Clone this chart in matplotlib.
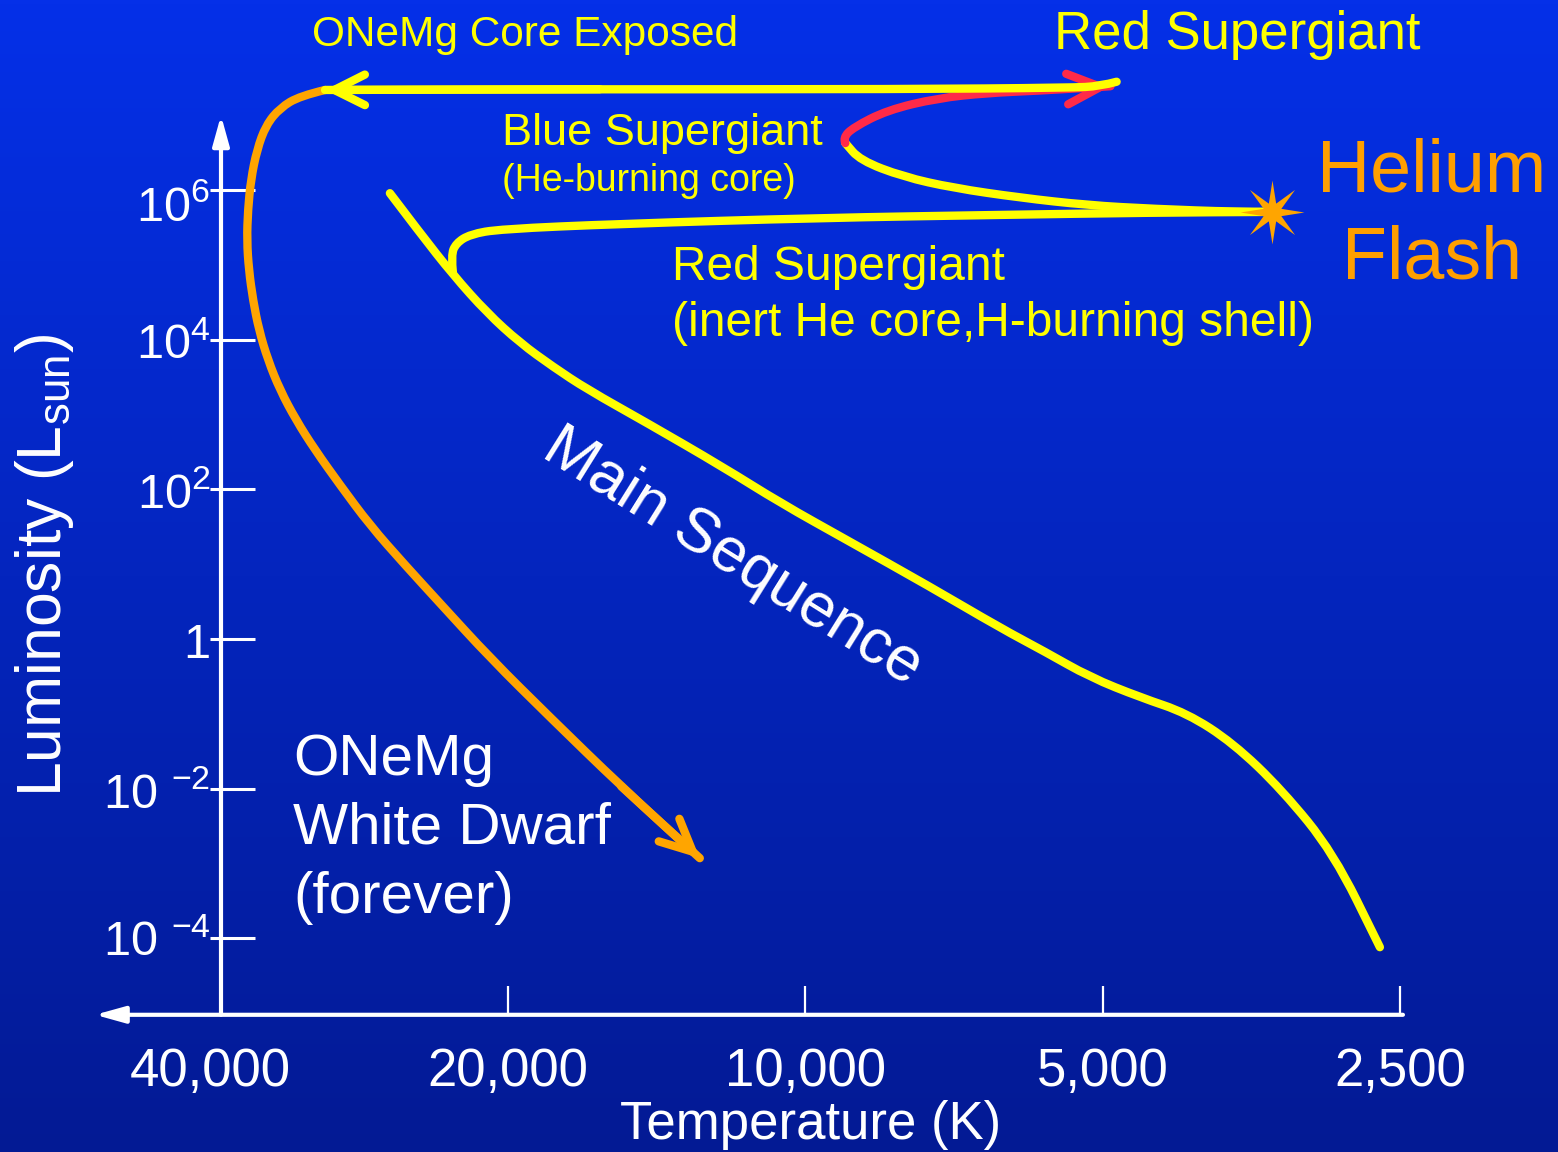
import numpy as np
import matplotlib
matplotlib.use('Agg')
from matplotlib import pyplot as plt
from matplotlib import transforms
from matplotlib.path import Path
from matplotlib.patches import PathPatch

plt.rcParams['font.family'] = ['Liberation Sans', 'DejaVu Sans']
plt.rcParams['mathtext.fontset'] = 'custom'
plt.rcParams['mathtext.rm'] = 'Liberation Sans'
plt.rcParams['mathtext.it'] = 'Liberation Sans:italic'
plt.rcParams['mathtext.bf'] = 'Liberation Sans:bold'

# main sequence (temperature in K, log10 of luminosity in L_sun)
ms_T = [26340, 24560, 22740, 21000, 19450, 18010, 16640, 14470, 12120, 10600, 9070,
        7480, 6350, 5720, 5150, 4580, 4110, 3690, 3290, 2920, 2620]
ms_logL = [5.96, 5.43, 4.87, 4.36, 3.96, 3.64, 3.34, 2.89, 2.30, 1.82, 1.32,
           0.70, 0.15, -0.17, -0.51, -0.78, -0.99, -1.39, -2.02, -2.86, -4.12]

# red supergiant branch up to the helium flash
rsg_T = [22740, 22840, 22580, 21850, 20380, 15410, 9660, 6350, 4470, 3370]
rsg_logL = [4.89, 5.13, 5.29, 5.41, 5.48, 5.55, 5.63, 5.67, 5.70, 5.71]

# blue loop, yellow part (from the flash back to the blue end)
loop_T = [3370, 3660, 4440, 5180, 6060, 7080, 7960, 8800, 9110]
loop_logL = [5.71, 5.71, 5.75, 5.80, 5.90, 6.03, 6.18, 6.40, 6.63]

# blue loop, red part (back to the red supergiant)
red_T = [9110, 9160, 8940, 8260, 7350, 6540, 5820, 5180, 4910]
red_logL = [6.63, 6.70, 6.84, 7.07, 7.23, 7.30, 7.33, 7.37, 7.39]

# red supergiant -> ONeMg core exposed
top_T = [4840, 5030, 5390, 8020, 16140, 30640]
top_logL = [7.45, 7.39, 7.37, 7.35, 7.35, 7.34]

# white dwarf cooling track
wd_T = [30640, 32480, 34030, 35160, 35910, 36420, 36670, 36760, 36590, 36240, 35740,
        35000, 34030, 32790, 31370, 29590, 27590, 25430, 23330, 20860, 18090, 15360, 12790]
wd_logL = [7.34, 7.26, 7.10, 6.87, 6.54, 6.14, 5.74, 5.33, 4.93, 4.53, 4.13,
           3.73, 3.33, 2.93, 2.53, 2.06, 1.52, 0.99, 0.45, -0.25, -1.06, -1.97, -2.93]

flash_T = 3370
flash_logL = 5.71

xticks_T = [40000, 20000, 10000, 5000, 2500]
xtick_labels = ['40,000', '20,000', '10,000', '5,000', '2,500']
yticks_L = [1e6, 1e4, 1e2, 1, 1e-2, 1e-4]
ytick_labels = [r'$\mathrm{10}^{6}$', r'$\mathrm{10}^{4}$', r'$\mathrm{10}^{2}$', '1',
                r'$\mathrm{10\ }^{-2}$', r'$\mathrm{10\ }^{-4}$']
ytick_drop = [18, 7, 6, 6, 6, 5]  # px the label sits below its tick

YELLOW = '#FFFF00'
ORANGE = '#FFA500'
RED = '#FF2A48'
W, H = 1558, 1152


def fx(x):
    return x / W


def fy(y):
    return 1 - y / H


def smooth(T, logL):
    # quadratic bezier through the midpoints, in log-log space
    lx = np.log10(np.asarray(T, float))
    ly = np.asarray(logL, float)
    verts = [(10 ** lx[0], 10 ** ly[0])]
    codes = [Path.MOVETO]
    for i in range(1, len(lx) - 1):
        verts.append((10 ** lx[i], 10 ** ly[i]))
        verts.append((10 ** ((lx[i] + lx[i + 1]) / 2), 10 ** ((ly[i] + ly[i + 1]) / 2)))
        codes += [Path.CURVE3, Path.CURVE3]
    verts.append((10 ** lx[-1], 10 ** ly[-1]))
    codes.append(Path.LINETO)
    return Path(verts, codes)


def track(ax, T, logL, color, z):
    p = PathPatch(smooth(T, logL), fill=False, edgecolor=color, lw=6,
                  capstyle='round', joinstyle='round', zorder=z, clip_on=False)
    ax.add_patch(p)


def arrow_end(ax, T, logL, color, z, hl, hw):
    ax.annotate('', xy=(T[-1], 10 ** logL[-1]), xytext=(T[-2], 10 ** logL[-2]),
                arrowprops=dict(arrowstyle='->,head_length=%s,head_width=%s' % (hl, hw),
                                mutation_scale=20, color=color, lw=6, shrinkA=0, shrinkB=0,
                                capstyle='round', joinstyle='round'),
                zorder=z, annotation_clip=False)


fig = plt.figure(figsize=(W / 100, H / 100), dpi=100)

# background gradient
bg = fig.add_axes([0, 0, 1, 1], zorder=-1)
top_col = np.array([5, 48, 232]) / 255
bot_col = np.array([3, 26, 148]) / 255
t = np.linspace(0, 1, 256)[:, None]
grad = (top_col[None, :] * (1 - t) + bot_col[None, :] * t)[:, None, :]
bg.imshow(grad, aspect='auto', extent=[0, 1, 0, 1])
bg.axis('off')

ax = fig.add_axes([221 / W, (H - 1013) / H, 1179 / W, 897.6 / H])
ax.set_facecolor('none')
ax.set_xscale('log')
ax.set_yscale('log')
ax.set_xlim(39050, 2500)
ax.set_ylim(1e-5, 1e7)
for s in ax.spines.values():
    s.set_visible(False)

ax.set_xticks(xticks_T[1:])
ax.set_xticks([], minor=True)
ax.tick_params(axis='x', which='major', direction='in', length=19.5, width=1.6,
               color='white', labelbottom=False)
ax.yaxis.remove_overlapping_locs = False
ax.set_yticks(yticks_L)
ax.set_yticks(yticks_L, minor=True)
ax.tick_params(axis='y', which='major', direction='in', length=24.5, width=2.2,
               color='white')
ax.tick_params(axis='y', which='minor', direction='out', length=8, width=2.2,
               color='white')
ax.tick_params(axis='y', which='both', labelleft=False)

# axis lines with arrows
ax.annotate('', xy=(0, 1.0), xytext=(0, -0.002), xycoords='axes fraction',
            arrowprops=dict(arrowstyle='-|>,head_length=0.9,head_width=0.25',
                            mutation_scale=20, color='white', lw=3,
                            shrinkA=0, shrinkB=0))
ax.annotate('', xy=(-0.1069, -0.002), xytext=(1.0025, -0.002), xycoords='axes fraction',
            arrowprops=dict(arrowstyle='-|>,head_length=0.9,head_width=0.25',
                            mutation_scale=20, color='white', lw=3,
                            shrinkA=0, shrinkB=0))

bx = transforms.blended_transform_factory(ax.transData, ax.transAxes)
for T, lab in zip(xticks_T, xtick_labels):
    ax.text(T, -0.0602, lab, ha='center', va='center', color='white', fontsize=38,
            transform=bx + transforms.ScaledTranslation(0, -5 / 100, fig.dpi_scale_trans))
by = transforms.blended_transform_factory(ax.transAxes, ax.transData)
for L, lab, d in zip(yticks_L, ytick_labels, ytick_drop):
    ax.text(-0.009, L, lab, ha='right', va='center', color='white', fontsize=35,
            transform=by + transforms.ScaledTranslation(0, -d / 100, fig.dpi_scale_trans))

track(ax, ms_T, ms_logL, YELLOW, 3)
track(ax, rsg_T, rsg_logL, YELLOW, 3)
track(ax, loop_T, loop_logL, YELLOW, 3)
track(ax, red_T, red_logL, RED, 3)
arrow_end(ax, red_T, red_logL, RED, 3, 1.2, 0.55)
track(ax, wd_T, wd_logL, ORANGE, 3)
arrow_end(ax, wd_T, wd_logL, ORANGE, 3, 1.15, 0.55)
track(ax, top_T, top_logL, YELLOW, 4)
arrow_end(ax, top_T, top_logL, YELLOW, 4, 1.1, 0.55)

# helium flash star
ang = np.deg2rad(np.arange(16) * 22.5 + 90)
rad = np.where(np.arange(16) % 2 == 0, 1.0, 0.3)
star = np.column_stack([rad * np.cos(ang), rad * np.sin(ang)])
ax.plot([flash_T], [10 ** flash_logL], marker=star, markersize=46, color=ORANGE,
        markeredgewidth=0, zorder=5, clip_on=False)

# labels
fig.text(fx(525), fy(35), 'ONeMg Core Exposed', color=YELLOW, fontsize=30.5,
         ha='center', va='center')
fig.text(fx(1237), fy(35), 'Red Supergiant', color=YELLOW, fontsize=38,
         ha='center', va='center')
fig.text(fx(502), fy(133), 'Blue Supergiant', color=YELLOW, fontsize=32.5,
         ha='left', va='center')
fig.text(fx(502), fy(181), '(He-burning core)', color=YELLOW, fontsize=27,
         ha='left', va='center')
fig.text(fx(672), fy(268), 'Red Supergiant', color=YELLOW, fontsize=34.5,
         ha='left', va='center')
fig.text(fx(672), fy(323), '(inert He core,H-burning shell)', color=YELLOW,
         fontsize=34.5, ha='left', va='center')
fig.text(fx(1432), fy(172), 'Helium', color='#FF9F00', fontsize=53,
         ha='center', va='center')
fig.text(fx(1432), fy(259), 'Flash', color='#FF9F00', fontsize=53,
         ha='center', va='center')
fig.text(fx(733), fy(557), 'Main Sequence', color='white', fontsize=45,
         rotation=-32, rotation_mode='anchor', ha='center', va='center')
fig.text(fx(293), fy(829), 'ONeMg\nWhite Dwarf\n(forever)', color='white',
         fontsize=42, ha='left', va='center', linespacing=1.35)
fig.text(fx(45), fy(565), r'Luminosity (L$_{\mathrm{sun}}$)', color='white',
         fontsize=45, rotation=90, ha='center', va='center')
fig.text(fx(811), fy(1125), 'Temperature (K)', color='white', fontsize=38,
         ha='center', va='center')

plt.savefig('out.png', dpi=100)
